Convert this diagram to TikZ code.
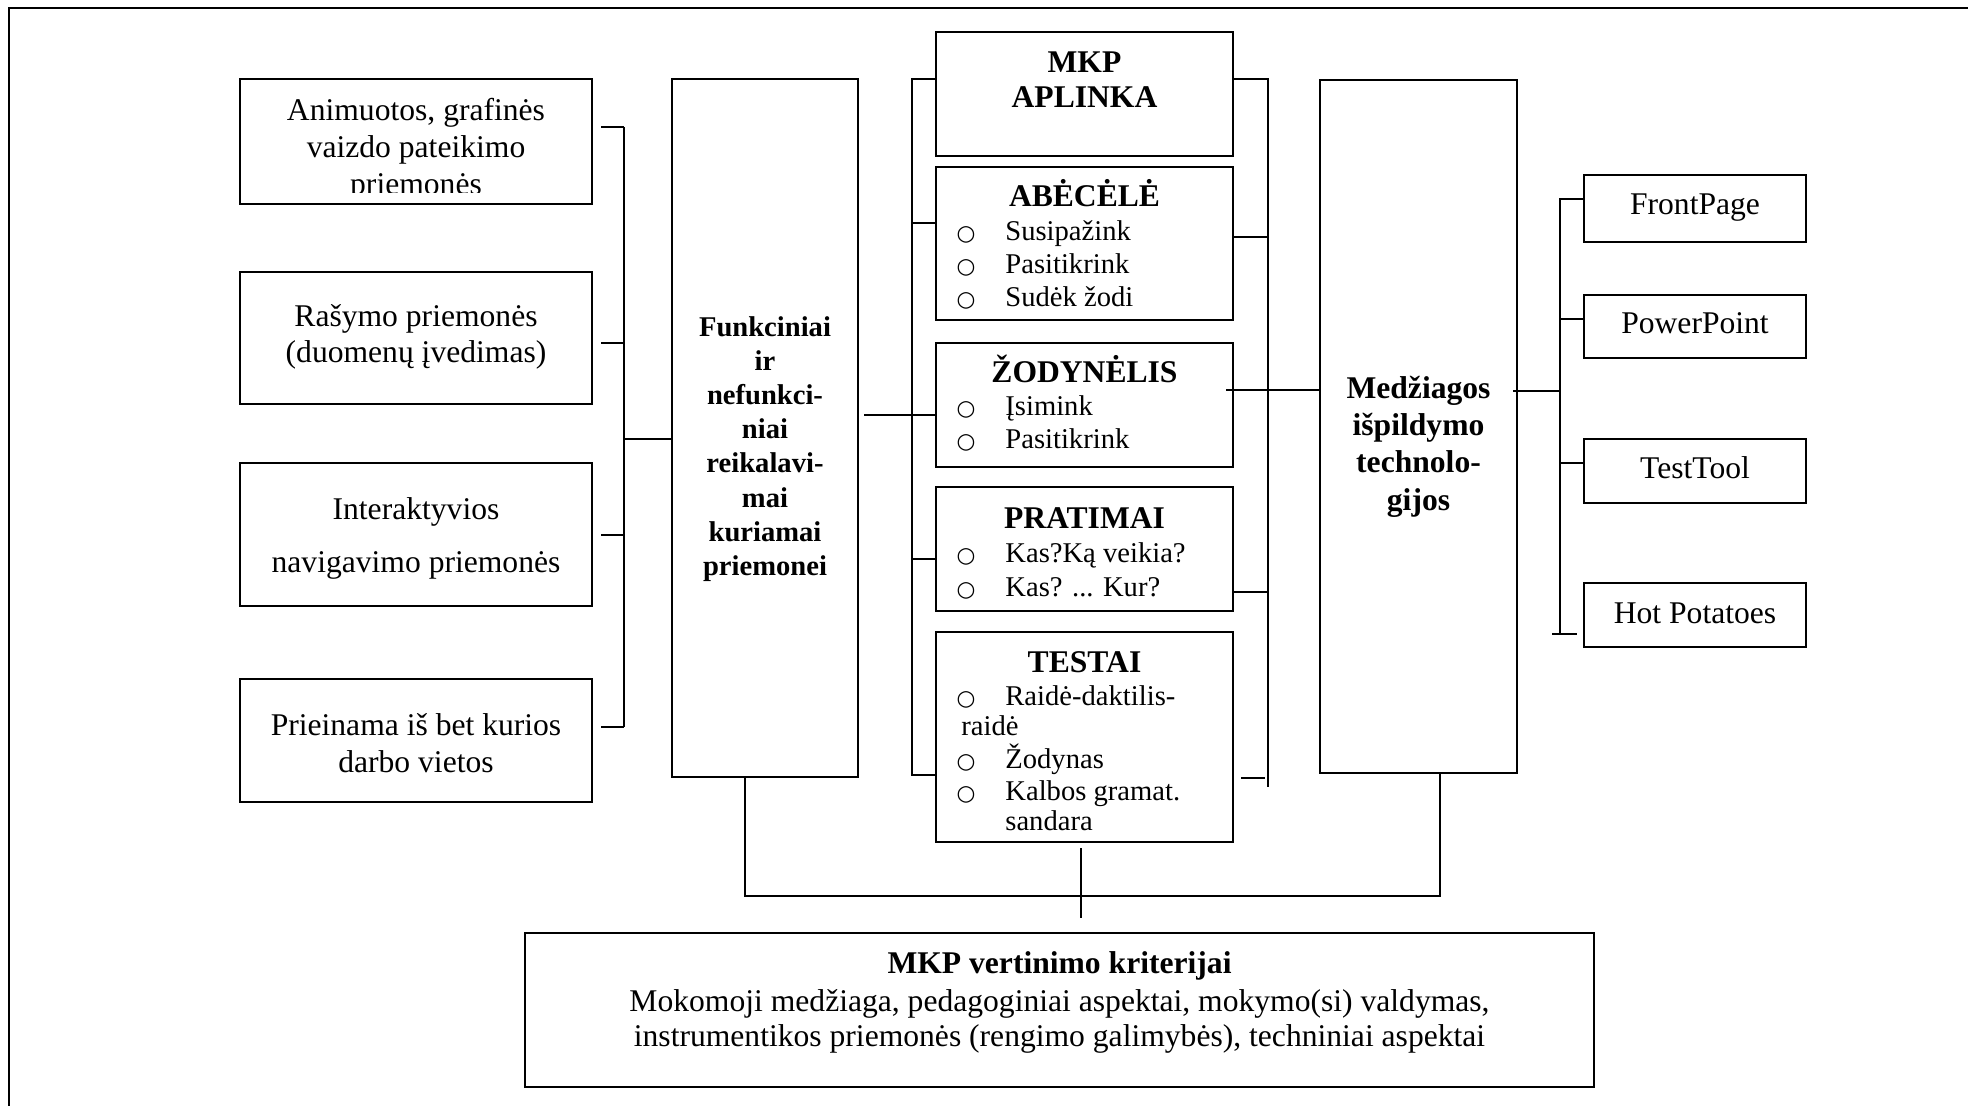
\documentclass[tikz,border=0pt]{standalone}
\usepackage{fontspec}
\setmainfont{Liberation Serif}
\newfontfamily\bulletfont{DejaVu Sans}
\usetikzlibrary{fit,calc}
\begin{document}
\begin{tikzpicture}[x=0.5pt,y=-0.5pt,
  box/.style={draw, line width=1pt, inner sep=0pt},
  wire/.style={line width=1pt},
  frameline/.style={line width=1.4pt},
  big/.style={inner sep=0pt, font=\fontsize{15.8}{18.5}\selectfont},
  bigbold/.style={inner sep=0pt, font=\fontsize{15.8}{18.5}\selectfont\bfseries},
  mid/.style={inner sep=0pt, font=\fontsize{14.3}{16.8}\selectfont},
  midbold/.style={inner sep=0pt, font=\fontsize{14.3}{16.8}\selectfont\bfseries},
  bul/.style={inner sep=0pt, font=\fontsize{10.8}{12}\selectfont\bulletfont},
]
\useasboundingbox (0,0) rectangle (1968,1106);

% outer frame (left and top edges)
\coordinate (frameBL) at (9,1106);
\coordinate (frameTL) at (9,8);
\coordinate (frameTR) at (1968,8);
\draw[frameline] (frameBL) -- (frameTL) -- (frameTR);

% ---------- left column ----------
\node[box, fit={(240,79) (592,204)}] (anim) {};
\node[box, fit={(240,272) (592,404)}] (rasymo) {};
\node[box, fit={(240,463) (592,606)}] (inter) {};
\node[box, fit={(240,679) (592,802)}] (prie) {};

\begin{scope}
  \clip (240,79) rectangle (592,193);
  \node[big, anchor=base] (anim1) at (416,121) {Animuotos, grafinės};
  \node[big, anchor=base] (anim2) at (416,158) {vaizdo pateikimo};
  \node[big, anchor=base] (anim3) at (416,195) {priemonės};
\end{scope}
\node[big, anchor=base] (ras1) at (416,327) {Rašymo priemonės};
\node[big, anchor=base] (ras2) at (416,363) {(duomenų įvedimas)};
\node[big, anchor=base] (int1) at (416,519) {Interaktyvios};
\node[big, anchor=base] (int2) at (416,572) {navigavimo priemonės};
\node[big, anchor=base] (pri1) at (416,735) {Prieinama iš bet kurios};
\node[big, anchor=base] (pri2) at (416,772) {darbo vietos};

% ---------- requirements box ----------
\node[box, fit={(672,79) (858,777)}] (fnk) {};
\node[midbold, anchor=base] (f1) at (765,337) {Funkciniai};
\node[midbold, anchor=base] (f2) at (765,371) {ir};
\node[midbold, anchor=base] (f3) at (765,405) {nefunkci-};
\node[midbold, anchor=base] (f4) at (765,439) {niai};
\node[midbold, anchor=base] (f5) at (765,473) {reikalavi-};
\node[midbold, anchor=base] (f6) at (765,507) {mai};
\node[midbold, anchor=base] (f7) at (765,541) {kuriamai};
\node[midbold, anchor=base] (f8) at (765,575) {priemonei};

% left bus
\coordinate (lbusT) at (624,127);
\coordinate (lbusB) at (624,727);
\draw[wire] (lbusT) -- (lbusB);
\draw[wire] ($(anim.east |- lbusT)+(8,0)$) -- (lbusT);
\draw[wire] ($(rasymo.east |- 0,343)+(8,0)$) -- (lbusT |- 0,343);
\draw[wire] ($(inter.east |- 0,535)+(8,0)$) -- (lbusT |- 0,535);
\draw[wire] ($(prie.east |- lbusB)+(8,0)$) -- (lbusB);
\draw[wire] (lbusT |- 0,439) -- (fnk.west |- 0,439);

% ---------- middle column ----------
\node[box, fit={(936,32) (1233,156)}] (mkp) {};
\node[box, fit={(936,167) (1233,320)}] (abc) {};
\node[box, fit={(936,343) (1233,467)}] (zod) {};
\node[box, fit={(936,487) (1233,611)}] (pra) {};
\node[box, fit={(936,632) (1233,842)}] (tst) {};

\node[bigbold, anchor=base] (mkp1) at (1084.5,73) {MKP};
\node[bigbold, anchor=base] (mkp2) at (1084.5,108) {APLINKA};

\node[bigbold, anchor=base] (abcT) at (1084.5,207) {ABĖCĖLĖ};
\node[bul, anchor=base] (abcB1) at (966,241) {○};
\node[mid, anchor=base west] (abc1) at (1005,241) {Susipažink};
\node[bul, anchor=base] (abcB2) at (966,274) {○};
\node[mid, anchor=base west] (abc2) at (1005,274) {Pasitikrink};
\node[bul, anchor=base] (abcB3) at (966,307) {○};
\node[mid, anchor=base west] (abc3) at (1005,307) {Sudėk žodi};

\node[bigbold, anchor=base] (zodT) at (1084.5,383) {ŽODYNĖLIS};
\node[bul, anchor=base] (zodB1) at (966,416) {○};
\node[mid, anchor=base west] (zod1) at (1005,416) {Įsimink};
\node[bul, anchor=base] (zodB2) at (966,449) {○};
\node[mid, anchor=base west] (zod2) at (1005,449) {Pasitikrink};

\node[bigbold, anchor=base] (praT) at (1084.5,528) {PRATIMAI};
\node[bul, anchor=base] (praB1) at (966,562) {○};
\node[mid, anchor=base west] (pra1) at (1005,562) {Kas?Ką veikia?};
\node[bul, anchor=base] (praB2) at (966,596) {○};
\node[mid, anchor=base west] (pra2) at (1005,596) {Kas? ... Kur?};

\node[bigbold, anchor=base] (tstT) at (1084.5,672) {TESTAI};
\node[bul, anchor=base] (tstB1) at (966,705) {○};
\node[mid, anchor=base west] (tst1) at (1005,705) {Raidė-daktilis-};
\node[mid, anchor=base west] (tst1b) at (961,735) {raidė};
\node[bul, anchor=base] (tstB2) at (966,768) {○};
\node[mid, anchor=base west] (tst2) at (1005,768) {Žodynas};
\node[bul, anchor=base] (tstB3) at (966,800) {○};
\node[mid, anchor=base west] (tst3) at (1005,800) {Kalbos gramat.};
\node[mid, anchor=base west] (tst3b) at (1005,830) {sandara};

% middle-left bus
\coordinate (mlT) at (912,79);
\coordinate (mlB) at (912,775);
\draw[wire] (mkp.west |- mlT) -- (mlT) -- (mlB) -- (tst.west |- mlB);
\draw[wire] (mlT |- 0,223) -- (abc.west |- 0,223);
\draw[wire] (mlT |- 0,559) -- (pra.west |- 0,559);
\draw[wire] ($(fnk.east |- 0,415)+(5,0)$) -- (zod.west |- 0,415);

% ---------- technologies box ----------
\node[box, fit={(1320,80) (1517,773)}] (med) {};
\node[bigbold, anchor=base] (m1) at (1418.5,399) {Medžiagos};
\node[bigbold, anchor=base] (m2) at (1418.5,436) {išpildymo};
\node[bigbold, anchor=base] (m3) at (1418.5,473) {technolo-};
\node[bigbold, anchor=base] (m4) at (1418.5,510) {gijos};

% middle-right bus
\coordinate (mrT) at (1268,79);
\coordinate (mrB) at (1268,787);
\draw[wire] (mkp.east |- mrT) -- (mrT) -- (mrB);
\draw[wire] (abc.east |- 0,237) -- (mrT |- 0,237);
\draw[wire] ($(zod.east |- 0,390)+(-8,0)$) -- (med.west |- 0,390);
\draw[wire] (pra.east |- 0,592) -- (mrT |- 0,592);
\draw[wire] ($(tst.east |- 0,778)+(7,0)$) -- ($(mrT |- 0,778)+(-3,0)$);

% ---------- tools column ----------
\node[box, fit={(1584,175) (1806,242)}] (fp) {};
\node[box, fit={(1584,295) (1806,358)}] (pp) {};
\node[box, fit={(1584,439) (1806,503)}] (tt) {};
\node[box, fit={(1584,583) (1806,647)}] (hp) {};
\node[big, anchor=base] (fpT) at (1695,215) {FrontPage};
\node[big, anchor=base] (ppT) at (1695,334) {PowerPoint};
\node[big, anchor=base] (ttT) at (1695,479) {TestTool};
\node[big, anchor=base] (hpT) at (1695,623) {Hot Potatoes};

% right bus
\coordinate (rbT) at (1560,199);
\coordinate (rbB) at (1560,634);
\draw[wire] ($(med.east |- 0,391)+(-5,0)$) -- (rbT |- 0,391);
\draw[wire] (fp.west |- rbT) -- (rbT) -- (rbB);
\draw[wire] ($(rbB)+(-8,0)$) -- ($(rbB)+(17,0)$);
\draw[wire] (rbT |- 0,319) -- (pp.west |- 0,319);
\draw[wire] (rbT |- 0,463) -- (tt.west |- 0,463);

% ---------- evaluation criteria ----------
\node[box, fit={(525,933) (1594,1087)}] (crit) {};
\node[bigbold, anchor=base] (c1) at (1059.5,973) {MKP vertinimo kriterijai};
\node[big, anchor=base] (c2) at (1059.5,1011) {Mokomoji medžiaga, pedagoginiai aspektai, mokymo(si) valdymas,};
\node[big, anchor=base] (c3) at (1059.5,1046) {instrumentikos priemonės (rengimo galimybės), techniniai aspektai};

% bottom links
\coordinate (botL) at (745,896);
\coordinate (botR) at (1440,896);
\draw[wire] (fnk.south -| botL) -- (botL) -- (botR) -- (med.south -| botR);
\draw[wire] ($(tst.south -| 1081,0)+(0,5)$) -- ($(crit.north -| 1081,0)+(0,-14)$);

\end{tikzpicture}
\end{document}
